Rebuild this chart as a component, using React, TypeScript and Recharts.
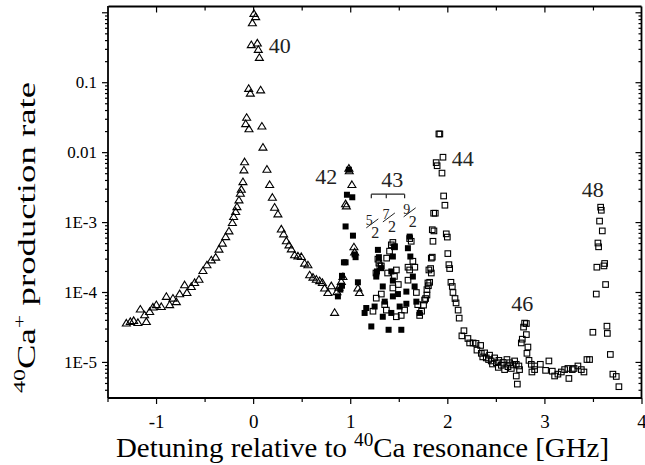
import React from "react";
import {
  ReferenceDot,
  ReferenceLine,
  Scatter,
  ScatterChart,
  XAxis,
  YAxis,
} from "recharts";

// 40Ca peak and the 42 peak (open triangles)
const triangles: [number, number][] = [
  [-1.311, 3.66e-5], [-1.27, 3.85e-5], [-1.236, 3.98e-5], [-1.192, 3.73e-5],
  [-1.167, 5.8e-5], [-1.105, 3.85e-5], [-1.123, 4.8e-5], [-1.071, 5.35e-5],
  [-1.037, 6.2e-5], [-1.002, 6.7e-5], [-0.951, 6.3e-5], [-0.899, 8.8e-5],
  [-0.865, 6.7e-5], [-0.831, 8.3e-5], [-0.796, 7.4e-5], [-0.762, 9.6e-5],
  [-0.711, 1.29e-4], [-0.687, 1.0e-4], [-0.642, 1.22e-4], [-0.608, 1.39e-4],
  [-0.563, 1.55e-4], [-0.522, 2.06e-4], [-0.481, 2.49e-4], [-0.436, 2.93e-4],
  [-0.391, 3.2e-4], [-0.357, 4.17e-4], [-0.322, 5.08e-4], [-0.288, 6.3e-4],
  [-0.254, 7.6e-4], [-0.219, 1.0e-3], [-0.206, 1.22e-3], [-0.185, 1.44e-3],
  [-0.172, 1.69e-3], [-0.151, 2.11e-3], [-0.137, 2.63e-3], [-0.127, 3.0e-3],
  [-0.11, 3.85e-3], [-0.1, 5.66e-3], [-0.093, 7.4e-3], [-0.048, 0.022],
  [-0.082, 0.026], [-0.072, 0.032], [-0.034, 0.071], [-0.051, 0.083],
  [-0.024, 0.35], [-0.013, 0.72], [0.003, 0.98], [0.021, 0.88],
  [0.038, 0.37], [0.048, 0.3], [0.059, 0.23], [0.072, 0.079],
  [0.085, 0.024], [0.096, 0.012], [0.137, 5.8e-3], [0.165, 3.5e-3],
  [0.193, 2.3e-3], [0.216, 1.66e-3], [0.25, 1.33e-3], [0.285, 8.1e-4],
  [0.309, 6.9e-4], [0.337, 5.5e-4], [0.364, 4.8e-4], [0.388, 4.2e-4],
  [0.422, 3.46e-4], [0.456, 3.34e-4], [0.491, 3.27e-4], [0.525, 2.63e-4],
  [0.559, 2.49e-4], [0.577, 1.79e-4], [0.611, 1.66e-4], [0.646, 1.55e-4],
  [0.68, 1.48e-4], [0.708, 1.39e-4], [0.731, 1.16e-4], [0.765, 1.0e-4],
  [0.8, 1.25e-4], [0.834, 5.2e-5], [0.858, 1.03e-4], [0.878, 1.19e-4],
  [0.903, 1.44e-4], [0.92, 1.69e-4],
  [0.981, 6.0e-3], [0.985, 5.5e-3], [1.012, 3.5e-3], [0.955, 1.73e-3],
  [0.947, 1.86e-3], [1.033, 4.5e-4], [1.04, 3.8e-4], [1.074, 1.16e-4],
  [1.09, 1.0e-4],
];

// 42 and 43 (filled squares)
const filledSquares: [number, number][] = [
  [0.981, 5.7e-3], [0.961, 2.5e-3], [1.016, 2.3e-3], [0.947, 8.8e-4],
  [1.023, 6.5e-4], [1.04, 3.5e-4], [1.05, 3.2e-4], [0.93, 2.7e-4],
  [0.947, 2.7e-4], [0.91, 1.73e-4], [1.074, 1.4e-4], [0.893, 1.1e-4],
  [0.868, 8.8e-5], [0.91, 1.25e-4], [1.143, 5.1e-5],
  [1.16, 6.0e-5], [1.212, 3.27e-5], [1.246, 6.3e-5], [1.28, 4.07e-4],
  [1.29, 3.2e-4], [1.263, 1.69e-4], [1.27, 2.0e-4], [1.313, 2.23e-4],
  [1.33, 1.22e-4], [1.35, 7.4e-5], [1.33, 4.5e-5], [1.39, 2.93e-5],
  [1.418, 5.1e-5], [1.434, 8.8e-5], [1.418, 2.0e-4], [1.434, 3.27e-4],
  [1.452, 4.54e-4], [1.434, 1.48e-4], [1.486, 9.5e-5], [1.504, 6.3e-5],
  [1.521, 2.93e-5], [1.573, 1.03e-4], [1.573, 6.9e-5], [1.589, 4.3e-4],
  [1.607, 6.3e-4], [1.614, 3.27e-4], [1.64, 1.69e-4], [1.658, 1.22e-4],
  [1.676, 7.4e-5], [1.71, 5.1e-5],
];

// 43, 44, 46, 48 (open squares)
const openSquares: [number, number][] = [
  [1.29, 2.63e-4], [1.28, 3.0e-4], [1.3, 2.4e-4], [1.26, 1.9e-4],
  [1.315, 2.4e-4], [1.37, 3.1e-4], [1.4, 3.9e-4], [1.418, 4.8e-4],
  [1.434, 5.2e-4], [1.45, 4.5e-4], [1.38, 1.9e-4], [1.47, 2.1e-4],
  [1.45, 1.7e-4], [1.49, 1.3e-4], [1.263, 8.3e-5], [1.315, 9.5e-5],
  [1.229, 5.4e-5], [1.35, 6.7e-5], [1.367, 5.6e-5], [1.434, 1.16e-4],
  [1.47, 4.5e-5], [1.52, 4.7e-5], [1.555, 5.6e-5], [1.59, 1.5e-4],
  [1.607, 2.1e-4], [1.64, 2.8e-4], [1.623, 5.4e-4], [1.607, 5.9e-4],
  [1.59, 2.3e-4], [1.66, 2.3e-4], [1.676, 1.0e-4], [1.69, 6.7e-5],
  [1.71, 4.7e-5], [1.73, 5.4e-5],
  [1.75, 6.6e-5], [1.761, 7.8e-5], [1.771, 8.2e-5], [1.785, 1.1e-4],
  [1.785, 9.2e-5], [1.795, 1.37e-4], [1.8, 1.25e-4], [1.805, 2.1e-4],
  [1.813, 1.4e-4], [1.823, 2.2e-4], [1.83, 1.9e-4], [1.83, 3.1e-4],
  [1.84, 3.2e-4], [1.847, 5.4e-4], [1.84, 7.9e-4], [1.857, 7.6e-4],
  [1.854, 1.36e-3], [1.871, 1.36e-3], [1.88, 7.2e-3], [1.89, 6.5e-3],
  [1.908, 0.0185], [1.918, 0.0185], [1.95, 8.6e-3], [1.94, 5.1e-3],
  [1.957, 2.4e-3], [1.97, 1.77e-3], [1.984, 6.9e-4], [1.995, 6.2e-4],
  [2.0, 3.6e-4], [2.011, 2.5e-4], [2.019, 2.2e-4], [2.032, 1.4e-4],
  [2.046, 1.22e-4], [2.053, 1.0e-4], [2.074, 8.2e-5], [2.085, 7.1e-5],
  [2.106, 5.6e-5], [2.117, 4.3e-5],
  [2.166, 2.84e-5], [2.145, 2.4e-5], [2.207, 2.2e-5], [2.225, 1.9e-5],
  [2.26, 1.9e-5], [2.29, 1.87e-5], [2.3, 1.5e-5], [2.338, 1.75e-5],
  [2.345, 1.35e-5], [2.36, 1.2e-5], [2.379, 1.37e-5], [2.396, 1.16e-5],
  [2.42, 1.1e-5], [2.43, 1.27e-5], [2.447, 1.05e-5], [2.46, 9.5e-6],
  [2.482, 1.16e-5], [2.5, 9.9e-6], [2.52, 8.5e-6], [2.526, 1.07e-5],
  [2.551, 9.1e-6], [2.57, 1.0e-5], [2.585, 7.9e-6], [2.609, 1.1e-5],
  [2.62, 8.7e-6], [2.637, 9.9e-6], [2.654, 8.2e-6], [2.67, 9.2e-6],
  [2.688, 1.05e-5], [2.705, 9.4e-6], [2.732, 8.9e-6], [2.739, 7.9e-6],
  [2.716, 4.9e-6], [2.705, 6.4e-6],
  [2.791, 3.65e-5], [2.809, 3.6e-5], [2.78, 3.2e-5], [2.809, 2.5e-5],
  [2.767, 2.15e-5], [2.757, 1.9e-5], [2.825, 1.66e-5], [2.815, 1.35e-5],
  [2.836, 1.07e-5], [2.86, 9.4e-6], [2.894, 8.9e-6], [2.866, 7.3e-6],
  [2.953, 9.4e-6], [2.894, 7.9e-6], [3.007, 7.7e-6], [3.041, 1.05e-5],
  [3.076, 7.5e-6], [3.1, 6.4e-6], [3.134, 6.8e-6], [3.169, 7.3e-6],
  [3.203, 7.9e-6], [3.247, 5.9e-6], [3.237, 8.2e-6], [3.282, 7.9e-6],
  [3.3, 8.2e-6], [3.34, 8.9e-6], [3.375, 7.9e-6], [3.402, 7.3e-6],
  [3.433, 1.1e-5], [3.46, 1.1e-5],
  [3.494, 2.7e-5], [3.529, 9.5e-5], [3.625, 1.3e-4], [3.535, 2.3e-4],
  [3.615, 2.6e-4], [3.608, 2.4e-4], [3.553, 4.5e-4], [3.546, 5.1e-4],
  [3.591, 7.6e-4], [3.563, 1.05e-3], [3.581, 1.5e-3], [3.574, 1.66e-3],
  [3.639, 3.3e-5], [3.643, 2.6e-5], [3.674, 1.3e-5], [3.7, 6.8e-6],
  [3.735, 6.3e-6], [3.762, 4.5e-6],
];

// peak labels: [x, y, text]
const peakLabels: [number, number, string][] = [
  [0.268, 0.346, "40"],
  [0.749, 4.54e-3, "42"],
  [1.428, 4.07e-3, "43"],
  [2.155, 8.3e-3, "44"],
  [2.767, 6.9e-5, "46"],
  [3.494, 2.93e-3, "48"],
];

// hyperfine components of 43: [x, y, numerator]
const fractions: [number, number, string][] = [
  [1.222, 8.97e-4, "5"],
  [1.393, 1.09e-3, "7"],
  [1.607, 1.29e-3, "9"],
];
const bracketX = [1.212, 1.366, 1.555];
const bracketY = [2.55e-3, 2.23e-3];

const xDomain = [-1.5, 4];
const xTicks = [-1.5, -1, -0.5, 0, 0.5, 1, 1.5, 2, 2.5, 3, 3.5, 4];
const yDomain = [3.1e-6, 1.25];
const yMajor = [1e-5, 1e-4, 1e-3, 0.01, 0.1, 1];
const yMajorLabels = ["1E-5", "1E-4", "1E-3", "0.01", "0.1", ""];

const yTicks: number[] = [];
for (let e = -6; e <= 0; e++) {
  for (let m = 1; m <= 9; m++) {
    const v = m * Math.pow(10, e);
    if (v >= yDomain[0] && v <= yDomain[1]) yTicks.push(v);
  }
}

// chart box
const W = 645;
const H = 465;
const PLOT = { left: 108, top: 6, right: 642, bottom: 398 };

// frame edges sit a hair inside the domain so the reference lines are kept
const X_PER_PX = (xDomain[1] - xDomain[0]) / (PLOT.right - PLOT.left);
const DEC_PER_PX = (Math.log10(yDomain[1]) - Math.log10(yDomain[0])) / (PLOT.bottom - PLOT.top);
const xEdge = xDomain[1] - 0.5 * X_PER_PX;
const yEdge = yDomain[1] / Math.pow(10, 0.5 * DEC_PER_PX);
const yDown = (px: number) => yEdge / Math.pow(10, px * DEC_PER_PX);

const FONT = "Liberation Serif";
const AXIS = { stroke: "#000", strokeWidth: 1.8 };
const toPts = (arr: [number, number][]) => arr.map(([x, y]) => ({ x, y }));

const majorIndex = (v: number) =>
  yMajor.findIndex((m) => Math.abs(Math.log10(m) - Math.log10(v)) < 1e-6);

const LeftTick = (props: any) => {
  const { x, y, payload } = props;
  const i = majorIndex(payload.value);
  const len = i >= 0 ? 6 : 3;
  return (
    <g>
      <line x1={x} y1={y} x2={x - len} y2={y} stroke="#000" strokeWidth={1.2} />
      {i >= 0 && yMajorLabels[i] && (
        <text
          x={x - 11}
          y={y}
          textAnchor="end"
          dominantBaseline="central"
          fontFamily={FONT}
          fontSize={17}
          fill="#000"
        >
          {yMajorLabels[i]}
        </text>
      )}
    </g>
  );
};

const BottomTick = (props: any) => {
  const { x, y, payload } = props;
  const major = Number.isInteger(payload.value);
  return (
    <g>
      <line x1={x} y1={y} x2={x} y2={y + (major ? 6 : 4)} stroke="#000" strokeWidth={1.2} />
      {major && (
        <text
          x={x}
          y={y + 23}
          textAnchor="middle"
          dominantBaseline="central"
          fontFamily={FONT}
          fontSize={19}
          fill="#000"
        >
          {payload.value}
        </text>
      )}
    </g>
  );
};

const XTitle = () => (
  <text
    x={362.5}
    y={457}
    textAnchor="middle"
    fontFamily={FONT}
    fontSize={27}
    fill="#000"
    textLength={493}
    lengthAdjust="spacingAndGlyphs"
  >
    <tspan>Detuning relative to </tspan>
    <tspan fontSize={18} dy={-11}>40</tspan>
    <tspan dy={11}>Ca resonance [GHz]</tspan>
  </text>
);

const YTitle = () => {
  const cx = 35;
  const cy = 237.5;
  return (
    <text
      x={cx}
      y={cy}
      transform={`rotate(-90, ${cx}, ${cy})`}
      textAnchor="middle"
      fontFamily={FONT}
      fontSize={26}
      fill="#000"
      textLength={311}
      lengthAdjust="spacingAndGlyphs"
    >
      <tspan fontSize={17} dy={-10}>40</tspan>
      <tspan dy={10}>Ca</tspan>
      <tspan fontSize={17} dy={-10}>+</tspan>
      <tspan dy={10}> production rate</tspan>
    </text>
  );
};

const PeakText = (props: any) => {
  const { viewBox, text } = props;
  const cx = viewBox.x + viewBox.width / 2;
  const cy = viewBox.y + viewBox.height / 2;
  return (
    <text x={cx} y={cy} textAnchor="middle" dominantBaseline="central" fontFamily={FONT} fontSize={22} fill="#222">
      {text}
    </text>
  );
};

const Fraction = (props: any) => {
  const { viewBox, num } = props;
  const cx = viewBox.x + viewBox.width / 2;
  const cy = viewBox.y + viewBox.height / 2;
  return (
    <g>
      <line x1={cx - 6} y1={cy + 2} x2={cx + 6} y2={cy - 7} stroke="#222" strokeWidth={1} />
      <text fontFamily={FONT} fill="#222" textAnchor="middle">
        <tspan x={cx - 3} y={cy - 1} fontSize={14}>{num}</tspan>
        <tspan x={cx + 3} y={cy + 12} fontSize={16}>2</tspan>
      </text>
    </g>
  );
};

const Triangle = (p: any) => (
  <path
    d={`M${p.cx},${p.cy - 3.6}L${p.cx + 4},${p.cy + 3}L${p.cx - 4},${p.cy + 3}Z`}
    fill="none"
    stroke="#000"
    strokeWidth={1.1}
  />
);

const OpenSquare = (p: any) => (
  <rect x={p.cx - 2.8} y={p.cy - 2.8} width={5.6} height={5.6} fill="none" stroke="#000" strokeWidth={1.1} />
);

const FilledSquare = (p: any) => (
  <rect x={p.cx - 3} y={p.cy - 3} width={6} height={6} fill="#000" />
);

export default function App() {
  return (
    <div style={{ position: "absolute", left: 0, top: 0, width: W, height: H }}>
      <ScatterChart
        width={W}
        height={H}
        margin={{ top: PLOT.top, right: W - PLOT.right, bottom: 0, left: 0 }}
      >
        <XAxis
          xAxisId="b"
          type="number"
          dataKey="x"
          domain={xDomain}
          ticks={xTicks}
          interval={0}
          allowDataOverflow
          height={H - PLOT.bottom}
          tickSize={0}
          tickMargin={0}
          tickLine={false}
          tick={<BottomTick />}
          axisLine={AXIS}
          label={<XTitle />}
        />
        <YAxis
          yAxisId="l"
          type="number"
          dataKey="y"
          scale="log"
          domain={yDomain}
          ticks={yTicks}
          interval={0}
          allowDataOverflow
          width={PLOT.left}
          tickSize={0}
          tickMargin={0}
          tickLine={false}
          tick={<LeftTick />}
          axisLine={AXIS}
          label={<YTitle />}
        />

        {/* top and right edges of the frame with inward ticks */}
        <ReferenceLine
          xAxisId="b"
          yAxisId="l"
          segment={[{ x: xDomain[0] + 0.5 * X_PER_PX, y: yEdge }, { x: xEdge, y: yEdge }]}
          stroke="#000"
          strokeWidth={1.8}
        />
        <ReferenceLine
          xAxisId="b"
          yAxisId="l"
          segment={[{ x: xEdge, y: yDomain[0] * 1.001 }, { x: xEdge, y: yEdge }]}
          stroke="#000"
          strokeWidth={1.8}
        />
        {xTicks.slice(1, -1).map((t) => (
          <ReferenceLine
            key={`tt-${t}`}
            xAxisId="b"
            yAxisId="l"
            segment={[{ x: t, y: yEdge }, { x: t, y: yDown(Number.isInteger(t) ? 6 : 4) }]}
            stroke="#000"
            strokeWidth={1.2}
          />
        ))}
        {yTicks.map((t) => (
          <ReferenceLine
            key={`rt-${t}`}
            xAxisId="b"
            yAxisId="l"
            segment={[
              { x: xEdge, y: t },
              { x: xEdge - (majorIndex(t) >= 0 ? 6 : 3) * X_PER_PX, y: t },
            ]}
            stroke="#000"
            strokeWidth={1.2}
          />
        ))}

        <Scatter xAxisId="b" yAxisId="l" data={toPts(triangles)} shape={<Triangle />} isAnimationActive={false} />
        <Scatter xAxisId="b" yAxisId="l" data={toPts(openSquares)} shape={<OpenSquare />} isAnimationActive={false} />
        <Scatter xAxisId="b" yAxisId="l" data={toPts(filledSquares)} shape={<FilledSquare />} isAnimationActive={false} />

        <ReferenceLine
          xAxisId="b"
          yAxisId="l"
          segment={[
            { x: bracketX[0], y: bracketY[0] },
            { x: bracketX[2], y: bracketY[0] },
          ]}
          stroke="#222"
          strokeWidth={1.2}
        />
        {bracketX.map((bx) => (
          <ReferenceLine
            key={`br-${bx}`}
            xAxisId="b"
            yAxisId="l"
            segment={[
              { x: bx, y: bracketY[0] },
              { x: bx, y: bracketY[1] },
            ]}
            stroke="#222"
            strokeWidth={1.2}
          />
        ))}
        {peakLabels.map(([px, py, t]) => (
          <ReferenceDot
            key={`pk-${t}`}
            xAxisId="b"
            yAxisId="l"
            x={px}
            y={py}
            r={0}
            fill="none"
            stroke="none"
            label={<PeakText text={t} />}
          />
        ))}
        {fractions.map(([fx, fy, n]) => (
          <ReferenceDot
            key={`fr-${n}`}
            xAxisId="b"
            yAxisId="l"
            x={fx}
            y={fy}
            r={0}
            fill="none"
            stroke="none"
            label={<Fraction num={n} />}
          />
        ))}
      </ScatterChart>
    </div>
  );
}
